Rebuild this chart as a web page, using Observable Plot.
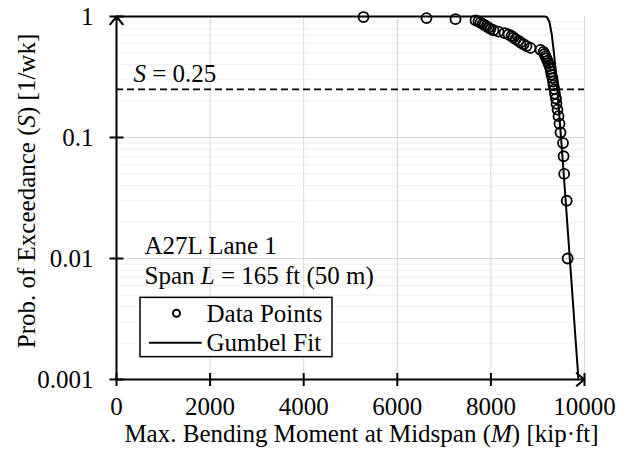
<!DOCTYPE html>
<html><head><meta charset="utf-8">
<script src="https://cdn.jsdelivr.net/npm/d3@7"></script>
<script src="https://cdn.jsdelivr.net/npm/@observablehq/plot@0.6"></script>
<style>body{margin:0;background:#fff}</style>
</head><body><div id="chart"></div>
<script>
// Data points (Max. bending moment, kip·ft) and their exceedance probability
const moment = [5278, 6624, 7244, 7671, 7735, 7778, 7821, 7863, 7906, 7949,
  7991, 8056, 8162, 8291, 8376, 8440, 8483, 8526, 8590, 8632,
  8697, 8761, 8846, 9060, 9124, 9145, 9167, 9188, 9209, 9231,
  9252, 9274, 9284, 9295, 9316, 9327, 9338, 9359, 9370, 9391,
  9402, 9423, 9444, 9466, 9487, 9541, 9553, 9566, 9620, 9640];
const exceed = [0.99, 0.97, 0.95, 0.93, 0.91, 0.89, 0.87, 0.85, 0.83, 0.81,
  0.79, 0.77, 0.75, 0.73, 0.71, 0.69, 0.67, 0.65, 0.63, 0.61,
  0.59, 0.57, 0.55, 0.53, 0.51, 0.49, 0.47, 0.45, 0.43, 0.41,
  0.39, 0.37, 0.35, 0.33, 0.31, 0.29, 0.27, 0.25, 0.23, 0.21,
  0.19, 0.17, 0.15, 0.13, 0.11, 0.09, 0.07, 0.05, 0.03, 0.01];
// Gumbel fit curve
const fitMoment = [0, 9150, 9200, 9250, 9300, 9350, 9400, 9450, 9500, 9550, 9600, 9650, 9700, 9750, 9800, 9850, 9870];
const fitExceed = [1, 0.9997, 0.987, 0.904, 0.714, 0.488, 0.302, 0.175, 0.098, 0.0535, 0.029, 0.0156, 0.0084, 0.0045, 0.0024, 0.0013, 0.001];
const threshold = 0.25;
const xTicks = [0, 2000, 4000, 6000, 8000, 10000];
const yTicks = [1, 0.1, 0.01, 0.001];
const yMinor = [0.002, 0.003, 0.004, 0.005, 0.006, 0.007, 0.008, 0.009,
  0.02, 0.03, 0.04, 0.05, 0.06, 0.07, 0.08, 0.09,
  0.2, 0.3, 0.4, 0.5, 0.6, 0.7, 0.8, 0.9];
const xGrid = [2000, 4000, 6000, 8000, 10000];
const yGrid = [0.1, 0.01];

const points = moment.map((m, i) => ({m, s: exceed[i]}));
const fit = fitMoment.map((m, i) => ({m, s: fitExceed[i]}));

const vTick = {draw(ctx) { ctx.moveTo(0, -6.5); ctx.lineTo(0, 6.5); }};
const hTick = {draw(ctx) { ctx.moveTo(-7, 0); ctx.lineTo(7, 0); }};

const font = "'Liberation Serif', 'Times New Roman', serif";

const svg = Plot.plot({
  width: 633, height: 449,
  marginLeft: 116, marginRight: 49, marginTop: 16, marginBottom: 70,
  style: {fontFamily: font, fontSize: "25px", background: "white", color: "black"},
  x: {domain: [0, 10000]},
  y: {type: "log", domain: [0.001, 1]},
  marks: [
    Plot.ruleY(yMinor, {stroke: "#efefef", strokeWidth: 1}),
    Plot.ruleY(yGrid, {stroke: "#d9d9d9", strokeWidth: 1}),
    Plot.ruleX(xGrid, {stroke: "#d9d9d9", strokeWidth: 1}),
    Plot.ruleY([threshold], {stroke: "black", strokeWidth: 1.6, strokeDasharray: "7,4"}),
    Plot.line(fit, {x: "m", y: "s", stroke: "black", strokeWidth: 2}),
    Plot.dot(points, {x: "m", y: "s", r: 5, stroke: "black", strokeWidth: 1.8, fill: "none"}),
    Plot.arrow([0], {x1: 0, x2: 10000, y1: 0.001, y2: 0.001, stroke: "black", strokeWidth: 2, headLength: 7.5, headAngle: 78}),
    Plot.arrow([0], {x1: 0, x2: 0, y1: 0.001, y2: 1, stroke: "black", strokeWidth: 2, headLength: 7.5, headAngle: 78}),
    Plot.dot(xTicks, {x: d => d, y: 0.001, symbol: vTick, stroke: "black", strokeWidth: 2, fill: "none"}),
    Plot.dot(yTicks, {x: 0, y: d => d, symbol: hTick, stroke: "black", strokeWidth: 2, fill: "none"}),
    Plot.axisX({ticks: xTicks, tickSize: 0, tickPadding: 18, label: null, tickFormat: d => String(d)}),
    Plot.axisY({ticks: yTicks, tickSize: 0, tickPadding: 23, label: null, tickFormat: d => String(d)}),
    // legend
    Plot.rect([0], {x1: 513, x2: 4615, y1: 0.00473, y2: 0.00153, fill: "white", stroke: "black", strokeWidth: 1.5}),
    Plot.dot([0], {x: 1282, y: 0.00353, r: 3.5, stroke: "black", strokeWidth: 2, fill: "none"}),
    Plot.ruleY([0.00201], {x1: 705, x2: 1831, stroke: "black", strokeWidth: 2}),
    Plot.text(["Data Points"], {frameAnchor: "top-left", dx: 90, dy: 305, textAnchor: "start", lineAnchor: "bottom"}),
    Plot.text(["Gumbel Fit"], {frameAnchor: "top-left", dx: 90, dy: 334, textAnchor: "start", lineAnchor: "bottom"}),
    // annotations
    Plot.text(["S = 0.25"], {frameAnchor: "top-left", dx: 17, dy: 65, textAnchor: "start", lineAnchor: "bottom"}),
    Plot.text(["A27L Lane 1"], {frameAnchor: "top-left", dx: 28, dy: 237, textAnchor: "start", lineAnchor: "bottom"}),
    Plot.text(["Span L = 165 ft (50 m)"], {frameAnchor: "top-left", dx: 28, dy: 267, textAnchor: "start", lineAnchor: "bottom"}),
    // axis titles
    Plot.text(["Max. Bending Moment at Midspan (M) [kip·ft]"], {frameAnchor: "bottom", dx: 11, dy: 62, textAnchor: "middle", lineAnchor: "bottom"}),
    Plot.text(["Prob. of Exceedance (S) [1/wk]"], {frameAnchor: "left", dx: -82, dy: -7, rotate: -90, textAnchor: "middle", lineAnchor: "bottom"})
  ]
});

function rich(plain, html) {
  d3.select(svg).selectAll("text").filter(function() { return this.textContent === plain; }).html(html);
}
rich("S = 0.25", '<tspan font-style="italic">S</tspan> = 0.25');
rich("Span L = 165 ft (50 m)", 'Span <tspan font-style="italic">L</tspan> = 165 ft (50 m)');
rich("Max. Bending Moment at Midspan (M) [kip·ft]", 'Max. Bending Moment at Midspan (<tspan font-style="italic">M</tspan>) [kip·ft]');
rich("Prob. of Exceedance (S) [1/wk]", 'Prob. of Exceedance (<tspan font-style="italic">S</tspan>) [1/wk]');

document.getElementById("chart").appendChild(svg);
</script>
</body></html>
